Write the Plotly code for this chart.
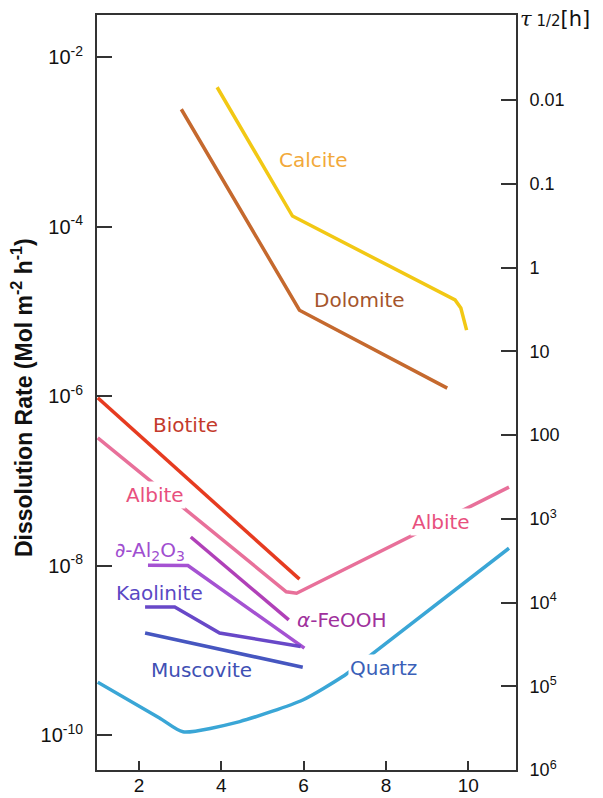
import plotly.graph_objects as go

# ---- data (pH vs dissolution rate, Mol m^-2 h^-1) ----
calcite_ph = [3.90, 5.73, 9.68, 9.82, 9.96]
calcite_rate = [4.4e-3, 1.33e-4, 1.36e-5, 1.09e-5, 6.0e-6]

dolomite_ph = [3.03, 5.90, 9.49]
dolomite_rate = [2.42e-3, 1.03e-5, 1.24e-6]

biotite_ph = [1.0, 5.90]
biotite_rate = [9.5e-7, 6.9e-9]

albite_ph = [1.0, 5.58, 5.83, 10.99]
albite_rate = [3.2e-7, 4.9e-9, 4.7e-9, 8.4e-8]

feooh_ph = [3.26, 5.64]
feooh_rate = [2.17e-8, 2.28e-9]

al2o3_ph = [2.22, 3.19, 6.02]
al2o3_rate = [1.01e-8, 1.0e-8, 1.06e-9]

kaolinite_ph = [2.15, 2.87, 3.96, 5.93]
kaolinite_rate = [3.24e-9, 3.24e-9, 1.60e-9, 1.11e-9]

muscovite_ph = [2.15, 5.98]
muscovite_rate = [1.60e-9, 6.3e-10]

quartz_ph = [1.0, 2.50, 3.07, 4.45, 5.98, 6.95, 7.64, 10.99]
quartz_rate = [4.2e-10, 1.59e-10, 1.09e-10, 1.44e-10, 2.59e-10, 4.9e-10, 8.8e-10, 1.6e-8]

left_ticks = [1e-10, 1e-8, 1e-6, 1e-4, 1e-2]
left_text = ["10<sup>-10</sup>", "10<sup>-8</sup>", "10<sup>-6</sup>", "10<sup>-4</sup>", "10<sup>-2</sup>"]
right_ticks = [0.01, 0.1, 1, 10, 100, 1e3, 1e4, 1e5, 1e6]
right_text = ["0.01", "0.1", "1", "10", "100", "10<sup>3</sup>", "10<sup>4</sup>", "10<sup>5</sup>", "10<sup>6</sup>"]
x_ticks = [2, 4, 6, 8, 10]

series = [
    (calcite_ph, calcite_rate, "#F2C814", "linear"),
    (dolomite_ph, dolomite_rate, "#C5692E", "linear"),
    (biotite_ph, biotite_rate, "#E63B20", "linear"),
    (albite_ph, albite_rate, "#E8709A", "linear"),
    (feooh_ph, feooh_rate, "#B040B8", "linear"),
    (al2o3_ph, al2o3_rate, "#A552D2", "linear"),
    (kaolinite_ph, kaolinite_rate, "#6848C8", "linear"),
    (muscovite_ph, muscovite_rate, "#4656C0", "linear"),
    (quartz_ph, quartz_rate, "#3AA6D6", "spline"),
]

fig = go.Figure()
for xs, ys, col, shape in series:
    line = dict(color=col, width=3.5, shape=shape)
    if shape == "spline":
        line["smoothing"] = 0.6
    fig.add_trace(go.Scatter(x=xs, y=ys, mode="lines", line=line, showlegend=False,
                             hoverinfo="skip"))

# dummy trace for the right axis
fig.add_trace(go.Scatter(x=[None], y=[None], yaxis="y2", showlegend=False, hoverinfo="skip"))

labels = [
    ("Calcite", 6.22, 3.215, "#F2A93A", False),
    ("Dolomite", 7.36, 4.867, "#A5552C", False),
    ("Biotite", 3.12, 6.342, "#C43A2C", False),
    ("Albite", 2.39, 7.168, "#E8507E", True),
    ("Albite", 9.34, 7.483, "#E8507E", True),
    ("∂-Al<sub>2</sub>O<sub>3</sub>", 2.27, 7.83, "#A04ED0", False),
    ("Kaolinite", 2.49, 8.328, "#5A48C4", False),
    ("Muscovite", 3.52, 9.233, "#4050B4", False),
    ("<i>α</i>-FeOOH", 6.93, 8.643, "#A0309C", False),
    ("Quartz", 7.94, 9.213, "#3A60B8", True),
]
for txt, x, ly, col, bg in labels:
    fig.add_annotation(x=x, y=-ly, xref="x", yref="y", text=txt, showarrow=False,
                       font=dict(family="DejaVu Sans", size=20, color=col),
                       bgcolor="white" if bg else "rgba(0,0,0,0)",
                       xanchor="center", yanchor="middle")

fig.add_annotation(xref="paper", yref="paper", x=-0.179, y=0.494, textangle=-90,
                   text="<b>Dissolution Rate (Mol m<sup>-2</sup> h<sup>-1</sup>)</b>", showarrow=False,
                   font=dict(family="Liberation Sans", size=23, color="#111"),
                   xanchor="center", yanchor="middle")
fig.add_annotation(xref="paper", yref="paper", x=1.005, y=0.995,
                   text="<i>τ</i><span style='font-family:DejaVu Sans;font-size:15px'> 1/2</span>"
                        "<span style='font-family:DejaVu Sans'>[h]</span>", showarrow=False,
                   font=dict(family="DejaVu Serif", size=21, color="#111"),
                   xanchor="left", yanchor="middle")

axis_line = dict(showline=True, linecolor="#333", linewidth=2, showgrid=False, zeroline=False,
                 ticks="inside", tickcolor="#333", tickwidth=2, automargin=False)

fig.update_layout(
    template="none",
    width=603, height=798,
    margin=dict(l=97, r=87, t=15, b=28),
    plot_bgcolor="white", paper_bgcolor="white",
    font=dict(family="Liberation Sans", color="#111"),
    xaxis=dict(range=[0.982, 11.16], tickvals=x_ticks, ticklen=9, mirror=True,
               tickfont=dict(size=19), ticklabelstandoff=-3, **axis_line),
    yaxis=dict(type="log", range=[-10.413, -1.504], tickvals=left_ticks, ticktext=left_text,
               ticklen=15, tickfont=dict(size=20), ticklabelstandoff=8, **axis_line),
    yaxis2=dict(type="log", range=[6.0, -3.015], overlaying="y", side="right", anchor="x",
                tickvals=right_ticks, ticktext=right_text, ticklen=15,
                tickfont=dict(size=18), ticklabelstandoff=8, **axis_line),
)

fig.write_html("out.html")
